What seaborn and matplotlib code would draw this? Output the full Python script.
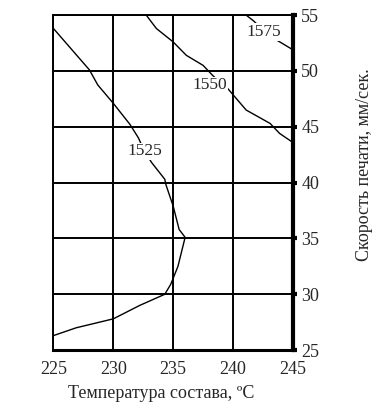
import numpy as np
import matplotlib
matplotlib.use("Agg")
import matplotlib.pyplot as plt
import seaborn as sns
import pandas as pd

# curve 1525
t_1525 = [225.0, 228.0, 228.7, 230.0, 231.4, 232.1, 232.6, 233.2, 234.3, 234.4, 235.0,
          235.5, 236.0, 235.4, 234.8, 234.3, 232.2, 230.0, 226.9, 225.0]
v_1525 = [53.8, 50.1, 48.75, 47.1, 45.2, 44.0, 42.8, 41.8, 40.3, 39.8, 37.9,
          35.8, 35.1, 32.5, 30.9, 30.0, 29.0, 27.8, 27.0, 26.3]
# curve 1550
t_1550 = [232.75, 233.6, 235.0, 236.1, 237.5, 238.3, 238.9, 239.5, 241.1, 243.1, 243.9, 245.0]
v_1550 = [55.0, 53.8, 52.6, 51.4, 50.5, 49.6, 49.0, 48.5, 46.5, 45.3, 44.4, 43.6]
# curve 1575
t_1575 = [241.1, 241.7, 242.6, 243.6, 245.0]
v_1575 = [55.0, 54.5, 53.6, 52.8, 51.9]

curve_names = ["1525", "1550", "1575"]
label_pos = [(232.6, 42.8), (238.1, 48.7), (242.6, 53.5)]

x_ticks = [225, 230, 235, 240, 245]
y_ticks = [25, 30, 35, 40, 45, 50, 55]

df = pd.concat([
    pd.DataFrame({"t": t_1525, "v": v_1525, "curve": "1525"}),
    pd.DataFrame({"t": t_1550, "v": v_1550, "curve": "1550"}),
    pd.DataFrame({"t": t_1575, "v": v_1575, "curve": "1575"}),
])

sns.set_style("white")
plt.rcParams["font.family"] = ["Liberation Serif", "DejaVu Serif"]

fig = plt.figure(figsize=(3.74, 4.09), dpi=100)
ax = fig.add_axes([0.143, 0.144, 0.640, 0.819])

sns.lineplot(data=df, x="t", y="v", units="curve", estimator=None, sort=False,
             color="black", lw=1.0, ax=ax, zorder=3)

for name, (lx, ly) in zip(curve_names, label_pos):
    ax.text(lx, ly, name, fontsize=12.5, ha="center", va="center", zorder=4,
            bbox=dict(facecolor="white", edgecolor="none", pad=0.5))

ax.set_xlim(225, 245)
ax.set_ylim(25, 55)
ax.set_xticks(x_ticks)
ax.set_yticks(y_ticks)
ax.grid(True, color="black", lw=1.4)
ax.set_axisbelow(True)

ax.yaxis.tick_right()
ax.yaxis.set_label_position("right")
ax.tick_params(axis="both", direction="out", length=3, width=3, color="black",
               labelsize=13)
ax.tick_params(axis="x", pad=5)
ax.tick_params(axis="y", pad=3)

for side in ["left", "top"]:
    ax.spines[side].set_linewidth(1.4)
ax.spines["bottom"].set_linewidth(2.2)
ax.spines["right"].set_linewidth(3.0)
for s in ax.spines.values():
    s.set_color("black")

ax.set_xlabel("Температура состава, ºС", fontsize=13)
ax.set_ylabel("Скорость печати, мм/сек.", fontsize=13)
ax.xaxis.set_label_coords(0.452, -0.105)
ax.yaxis.set_label_coords(1.265, 0.555)

fig.savefig("out.png", dpi=100)
